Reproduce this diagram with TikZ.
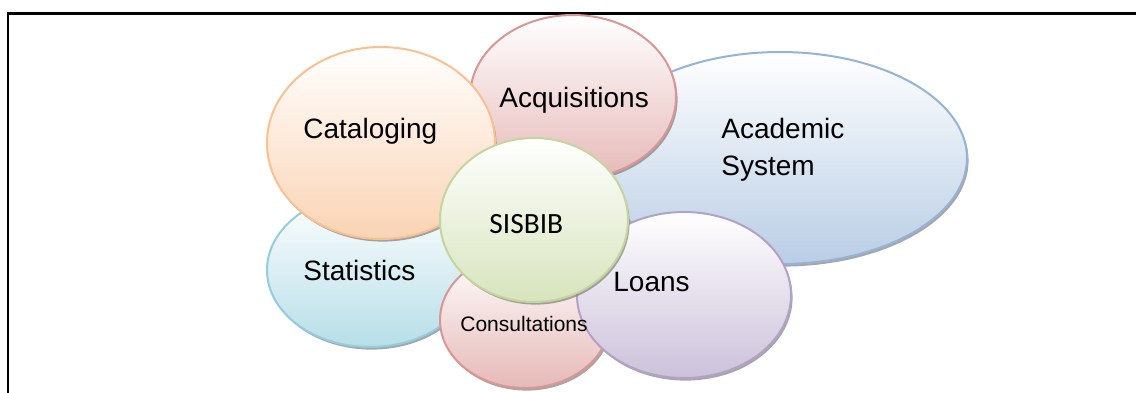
\documentclass[tikz,border=0pt]{standalone}
\usepackage{fontspec}
\setmainfont{Liberation Sans}
\newfontfamily\carl{Carlito}
\usetikzlibrary{shapes.geometric,shadows}
\definecolor{orB}{HTML}{FAC090}
\definecolor{orF}{HTML}{FAD3B4}
\definecolor{rdB}{HTML}{D99694}
\definecolor{rdF}{HTML}{E6B9B8}
\definecolor{blB}{HTML}{95B3D7}
\definecolor{blF}{HTML}{B9CDE5}
\definecolor{aqB}{HTML}{93CDDD}
\definecolor{aqF}{HTML}{B7DEE8}
\definecolor{grB}{HTML}{C3D69B}
\definecolor{grF}{HTML}{D7E4BD}
\definecolor{puB}{HTML}{B3A2C7}
\definecolor{puF}{HTML}{CCC1DA}
\begin{document}
\begin{tikzpicture}[x=0.5pt,y=-0.5pt,
  bub/.style={ellipse, inner sep=0pt, line width=1pt, top color=white,
    drop shadow={shadow xshift=0.8pt, shadow yshift=-1.3pt, fill=black!50, opacity=0.7}},
  lab/.style={anchor=base west, inner sep=0pt, text=black, font=\fontsize{14}{17}\selectfont}]
\useasboundingbox (0,0) rectangle (1136,392);
\begin{scope}
\clip (0,0) rectangle (1136,392);
\draw[line width=1.2pt] (7.7,420) -- (7.7,13.5) -- (1160,13.5);
\end{scope}
\node[bub, draw=blB, bottom color=blF, minimum width=187pt, minimum height=106pt] (acad) at (780,158) {};
\node[bub, draw=rdB, bottom color=rdF, minimum width=103pt, minimum height=82pt] (acq) at (573,97) {};
\node[bub, draw=aqB, bottom color=aqF, minimum width=103pt, minimum height=77pt] (stat) at (370,270) {};
\node[bub, draw=orB, bottom color=orF, minimum width=114pt, minimum height=96pt] (cat) at (381,143) {};
\node[bub, draw=rdB, bottom color=rdF, minimum width=85pt, minimum height=68pt] (cons) at (525,320) {};
\node[bub, draw=puB, bottom color=puF, minimum width=107pt, minimum height=83pt] (loan) at (684,295) {};
\node[bub, draw=grB, bottom color=grF, minimum width=94pt, minimum height=82pt] (sis) at (534,220) {};
\node[lab] (tcat) at (303,138) {Cataloging};
\node[lab] (tacq) at (499,107) {Acquisitions};
\node[lab] (tacad1) at (721,138) {Academic};
\node[lab] (tacad2) at (721,175) {System};
\node[lab, font=\carl\fontsize{14.7}{17}\selectfont] (tsis) at (489,233) {SISBIB};
\node[lab] (tstat) at (303,280) {Statistics};
\node[lab] (tloan) at (613,291) {Loans};
\node[lab, font=\fontsize{10.5}{12}\selectfont] (tcons) at (460,331) {Consultations};
\end{tikzpicture}
\end{document}
